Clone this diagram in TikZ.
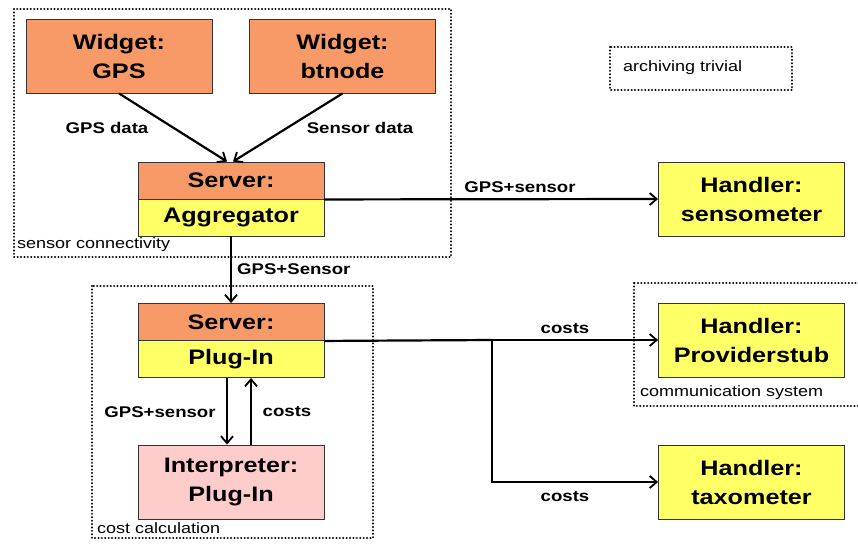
\documentclass[tikz,border=0pt]{standalone}
\usepackage{fontspec}
\setmainfont{Liberation Sans}[FakeStretch=1.2]
\usetikzlibrary{arrows.meta,positioning}
\definecolor{orng}{HTML}{F89A68}
\definecolor{yell}{HTML}{FFFF66}
\definecolor{pnk}{HTML}{FFCCCC}
\definecolor{bord}{HTML}{333333}
\tikzset{
  box/.style={draw=bord, line width=0.9pt, minimum width=186pt, align=center, inner sep=0pt,
    font=\bfseries\fontsize{21}{29}\selectfont},
  fullbox/.style={box, minimum height=74pt},
  halfbox/.style={box, minimum height=37pt},
  grp/.style={draw=black, line width=2.2pt, dash pattern=on 0.1pt off 3.3pt, line cap=round},
  conn/.style={line width=2.2pt, -{Straight Barb[length=7pt,width=12pt,line width=1.8pt]}},
  line/.style={line width=2.2pt},
  lbl/.style={font=\bfseries\fontsize{15.5}{18}\selectfont, inner sep=0pt},
  glbl/.style={font=\fontsize{15}{18}\selectfont, inner sep=0pt, anchor=west},
}
\begin{document}
\begin{tikzpicture}[x=1pt,y=-1pt]
\clip (0,0) rectangle (858,543);
\fill[white] (0,0) rectangle (858,543);
% group boxes
\draw[grp] (14,9) rectangle (451,257);
\draw[grp] (92,286) rectangle (373,538);
\draw[grp] (634,283) rectangle (870,406);
\draw[grp] (610,47) rectangle (792,90);
\node[glbl] (gsc) at (17,245) {sensor connectivity};
\node[glbl] (gcc) at (97,528) {cost calculation};
\node[glbl] (gcs) at (640,393) {communication system};
\node[glbl] (gat) at (623,68) {archiving trivial};
% nodes
\node[fullbox, fill=orng] (gps) at (119,56) {Widget:\\GPS};
\node[fullbox, fill=orng] (btn) at (342.5,56) {Widget:\\btnode};
\node[halfbox, fill=orng] (aggT) at (231,180.5) {Server:};
\node[halfbox, fill=yell] (aggB) at (231,217.5) {Aggregator};
\node[fullbox, fill=yell] (sens) at (751.5,199) {Handler:\\sensometer};
\node[halfbox, fill=orng] (plugT) at (231,322) {Server:};
\node[halfbox, fill=yell] (plugB) at (231,359) {Plug-In};
\node[fullbox, fill=pnk] (interp) at (231,482) {Interpreter:\\Plug-In};
\node[fullbox, fill=yell] (prov) at (751.5,340) {Handler:\\Providerstub};
\node[fullbox, fill=yell] (taxo) at (751.5,482) {Handler:\\taxometer};
\coordinate (junc) at (492,340);
% connectors
\draw[conn] (gps.south) -- ([xshift=-4pt]aggT.north);
\draw[conn] (btn.south) -- ([xshift=2pt]aggT.north);
\draw[conn] (aggT.south east) -- (sens.west);
\draw[conn] (aggB.south) -- (plugT.north);
\draw[conn] ([xshift=-4pt]plugB.south) -- ([xshift=-4pt]interp.north);
\draw[conn] ([xshift=20pt]interp.north) -- ([xshift=20pt]plugB.south);
\draw[line] (plugT.south east) -- (junc);
\draw[conn] (junc) -- (prov.west);
\draw[conn] (junc) |- (taxo.west);
% labels
\node[lbl] (l1) at (107,128) {GPS data};
\node[lbl] (l2) at (360,128) {Sensor data};
\node[lbl] (l3) at (520,187) {GPS+sensor};
\node[lbl, anchor=west] (l4) at (237,269) {GPS+Sensor};
\node[lbl] (l5) at (160,412) {GPS+sensor};
\node[lbl] (l6) at (287,412) {costs};
\node[lbl] (l7) at (565,329) {costs};
\node[lbl] (l8) at (565,497) {costs};
\end{tikzpicture}
\end{document}
